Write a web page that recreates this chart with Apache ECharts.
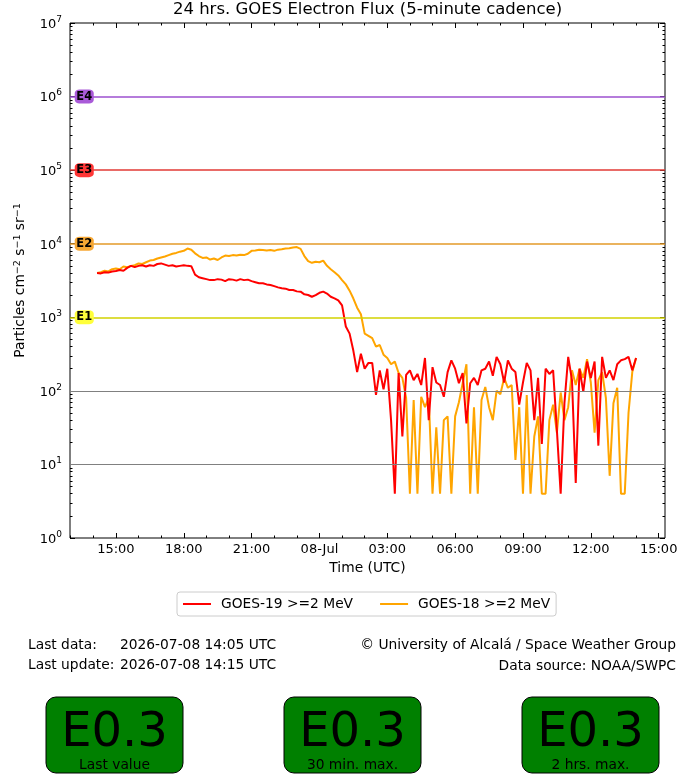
<!DOCTYPE html>
<html>
<head>
<meta charset="utf-8">
<script src="https://cdn.jsdelivr.net/npm/echarts@6/dist/echarts.min.js"></script>
<style>
html, body { margin: 0; padding: 0; background: #fff; }
#chart { width: 700px; height: 780px; }
</style>
</head>
<body>
<div id="chart"></div>
<script>
// sampling grid: hours since 2026-07-07 00:00 UTC, one value every 10 minutes
var startHour = 14 + 10 / 60;
var stepHours = 10 / 60;

// GOES-19 >=2 MeV electron flux
var goes19 = [
    4000, 3950, 4100, 4050, 4200, 4250, 4400, 4300, 4700, 5000,
    4800, 5000, 5100, 4900, 5100, 5000, 5300, 5400, 5200, 5000,
    5100, 4900, 5000, 5100, 5000, 4950, 3800, 3500, 3400, 3300,
    3200, 3200, 3300, 3250, 3100, 3300, 3250, 3150, 3300, 3200,
    3250, 3100, 3000, 2900, 2900, 2800, 2750, 2650, 2550, 2480,
    2450, 2350, 2350, 2250, 2230, 2050, 2010, 1900, 2000, 2150,
    2230, 2100, 1900, 1810, 1700, 1450, 750, 600, 350, 180,
    320, 200, 240, 240, 88, 190, 105, 200, 40, 4,
    175, 24, 165, 190, 140, 170, 120, 280, 40, 210,
    130, 120, 83, 180, 260, 200, 127, 175, 36, 127,
    150, 120, 190, 200, 250, 160, 290, 230, 130, 260,
    200, 180, 65, 130, 240, 190, 40, 150, 19, 200,
    170, 190, 29, 4, 68, 290, 140, 5.6, 200, 97,
    250, 150, 250, 18, 290, 150, 190, 140, 230, 260,
    270, 290, 190, 280
];

// GOES-18 >=2 MeV electron flux
var goes18 = [
    4000, 4100, 4300, 4200, 4500, 4600, 4500, 4900, 4800, 5000,
    5100, 5400, 5300, 5600, 5900, 6000, 6300, 6500, 6700, 7000,
    7300, 7500, 7800, 8000, 8600, 8300, 7400, 6800, 6400, 6500,
    6100, 6300, 6000, 6500, 6900, 6800, 7000, 6900, 7100, 7000,
    7300, 8000, 8100, 8300, 8200, 8100, 8200, 8000, 8300, 8400,
    8600, 8700, 8900, 9000, 8500, 6800, 5800, 5500, 5700, 5600,
    5900, 5000, 4500, 4100, 3700, 3200, 2800, 2300, 1800, 1350,
    1100, 600, 560, 520, 400, 420, 310, 280, 230, 250,
    175, 150, 80, 4, 75, 4, 83, 60, 80, 4,
    32, 4, 40, 45, 4, 45, 70, 127, 230, 4,
    60, 4, 75, 113, 60, 40, 100, 90, 150, 110,
    120, 11.5, 60, 4, 88, 4, 24, 45, 4, 4,
    40, 65, 27, 95, 40, 60, 190, 120, 200, 150,
    270, 130, 27, 140, 180, 80, 7, 68, 110, 4,
    4, 50, 180, 280
];

// alert levels
var levelNames = ['E1', 'E2', 'E3', 'E4'];
var levelValues = [1e3, 1e4, 1e5, 1e6];
var levelLineColors = ['#d2d200', '#e39a28', '#e23a34', '#9c50cf'];
var levelBoxColors = ['#ffff3a', '#f7a834', '#ff3636', '#a95ad8'];
var greyLevels = [1e1, 1e2];

// x axis ticks (hours since 2026-07-07 00:00)
var xMajorTicks = [15, 18, 21, 24, 27, 30, 33, 36, 39];
var xMajorLabels = ['15:00', '18:00', '21:00', '08-Jul', '03:00', '06:00', '09:00', '12:00', '15:00'];
var xMinorTicks = [13, 14, 16, 17, 19, 20, 22, 23, 25, 26, 28, 29, 31, 32, 34, 35, 37, 38];

var boxValues = ['E0.3', 'E0.3', 'E0.3'];
var boxCaptions = ['Last value', '30 min. max.', '2 hrs. max.'];

var font = 'DejaVu Sans';

function toPairs(arr) {
    var out = [];
    for (var i = 0; i < arr.length; i++) {
        out.push([startHour + i * stepHours, arr[i]]);
    }
    return out;
}

var yMinorTicks = [];
for (var n = 0; n < 7; n++) {
    for (var k = 2; k < 10; k++) {
        yMinorTicks.push(n + Math.log10(k));
    }
}

var levelLines = [];
var levelMarks = [];
for (var j = 0; j < levelValues.length; j++) {
    levelLines.push({ yAxis: levelValues[j], lineStyle: { color: levelLineColors[j], width: 1.5, type: 'solid' } });
    levelMarks.push({
        coord: [13.6, levelValues[j]],
        itemStyle: { color: levelBoxColors[j] },
        label: { formatter: levelNames[j] }
    });
}
for (var g = 0; g < greyLevels.length; g++) {
    levelLines.push({ yAxis: greyLevels[g], lineStyle: { color: '#808080', width: 1.2, type: 'solid' } });
}

var myChart = echarts.init(document.getElementById('chart'), null, { renderer: 'canvas' });

var xMin = 12.97, xMax = 39.28;
var supRich = {
    b: { fontSize: 13, fontFamily: font, color: '#000', lineHeight: 16, verticalAlign: 'bottom' },
    s: { fontSize: 9, fontFamily: font, color: '#000', lineHeight: 16, verticalAlign: 'top' }
};

var graphics = [
    { type: 'text', left: 28, top: 638, style: { text: 'Last data:', font: '13.8px "DejaVu Sans"', fill: '#000' } },
    { type: 'text', left: 120, top: 638, style: { text: '2026-07-08 14:05 UTC', font: '13.8px "DejaVu Sans"', fill: '#000' } },
    { type: 'text', left: 28, top: 658, style: { text: 'Last update:', font: '13.8px "DejaVu Sans"', fill: '#000' } },
    { type: 'text', left: 120, top: 658, style: { text: '2026-07-08 14:15 UTC', font: '13.8px "DejaVu Sans"', fill: '#000' } },
    { type: 'text', right: 24, top: 638, style: { text: '\u00a9 University of Alcal\u00e1 / Space Weather Group', font: '13.8px "DejaVu Sans"', fill: '#000' } },
    { type: 'text', right: 24, top: 659, style: { text: 'Data source: NOAA/SWPC', font: '13.8px "DejaVu Sans"', fill: '#000' } }
];
var boxLefts = [46, 284, 522];
for (var b = 0; b < boxLefts.length; b++) {
    graphics.push({
        type: 'rect',
        shape: { x: boxLefts[b], y: 697, width: 137, height: 76, r: 10 },
        style: { fill: '#008000', stroke: '#000', lineWidth: 1 }
    });
    graphics.push({
        type: 'text',
        style: { x: boxLefts[b] + 68.5, y: 734, text: boxValues[b], font: '48px "DejaVu Sans"', fill: '#000', textAlign: 'center', textVerticalAlign: 'middle' }
    });
    graphics.push({
        type: 'text',
        style: { x: boxLefts[b] + 68.5, y: 765, text: boxCaptions[b], font: '13.8px "DejaVu Sans"', fill: '#000', textAlign: 'center', textVerticalAlign: 'middle' }
    });
}

var option = {
    animation: false,
    backgroundColor: '#fff',
    textStyle: { fontFamily: font },
    title: {
        text: '24 hrs. GOES Electron Flux (5-minute cadence)',
        left: 367.5,
        top: 1,
        padding: 0,
        textAlign: 'center',
        textStyle: { fontSize: 16.5, fontWeight: 'normal', color: '#000', fontFamily: font }
    },
    grid: {
        left: 70, right: 35, top: 23, bottom: 242,
        show: true, borderColor: '#000', borderWidth: 1, backgroundColor: 'transparent'
    },
    legend: {
        data: ['GOES-19 >=2 MeV', 'GOES-18 >=2 MeV'],
        left: 177,
        top: 592,
        padding: [5, 6, 5, 6],
        itemGap: 27,
        itemWidth: 28,
        itemHeight: 2,
        icon: 'rect',
        borderColor: '#cccccc',
        borderWidth: 1,
        borderRadius: 3,
        textStyle: { fontSize: 13.8, color: '#000', fontFamily: font, padding: [0, 0, 0, 5] }
    },
    xAxis: [
        {
            type: 'value', min: xMin, max: xMax, position: 'bottom',
            axisLine: { show: false },
            splitLine: { show: false },
            axisTick: { show: true, inside: true, length: 5, customValues: xMajorTicks, lineStyle: { color: '#000' } },
            axisLabel: {
                customValues: xMajorTicks, margin: 5, fontSize: 13, color: '#000',
                formatter: function (v) {
                    var idx = xMajorTicks.indexOf(Math.round(v));
                    return idx >= 0 ? xMajorLabels[idx] : '';
                }
            },
            name: 'Time (UTC)', nameLocation: 'middle', nameGap: 23,
            nameTextStyle: { fontSize: 13.8, color: '#000', fontFamily: font }
        },
        {
            type: 'value', min: xMin, max: xMax, position: 'bottom',
            axisLine: { show: false }, splitLine: { show: false }, axisLabel: { show: false },
            axisTick: { show: true, inside: true, length: 2.5, customValues: xMinorTicks, lineStyle: { color: '#000' } }
        },
        {
            type: 'value', min: xMin, max: xMax, position: 'top',
            axisLine: { show: false }, splitLine: { show: false }, axisLabel: { show: false },
            axisTick: { show: true, inside: true, length: 5, customValues: xMajorTicks, lineStyle: { color: '#000' } }
        },
        {
            type: 'value', min: xMin, max: xMax, position: 'top',
            axisLine: { show: false }, splitLine: { show: false }, axisLabel: { show: false },
            axisTick: { show: true, inside: true, length: 2.5, customValues: xMinorTicks, lineStyle: { color: '#000' } }
        }
    ],
    yAxis: [
        {
            type: 'log', logBase: 10, min: 1, max: 1e7, position: 'left',
            axisLine: { show: false },
            splitLine: { show: false },
            axisTick: { show: true, inside: true, length: 5, lineStyle: { color: '#000' } },
            axisLabel: {
                margin: 8,
                formatter: function (v) {
                    return '{b|10}{s|' + Math.round(Math.log10(v)) + '}';
                },
                rich: supRich
            },
            name: 'Particles cm{s|\u22122} s{s|\u22121} sr{s|\u22121}',
            nameLocation: 'middle', nameGap: 40,
            nameTextStyle: {
                fontSize: 13.8, color: '#000', fontFamily: font,
                rich: {
                    s: { fontSize: 9.5, fontFamily: font, color: '#000', verticalAlign: 'top', lineHeight: 16 }
                },
                lineHeight: 16
            }
        },
        {
            type: 'log', logBase: 10, min: 1, max: 1e7, position: 'right',
            axisLine: { show: false }, splitLine: { show: false }, axisLabel: { show: false },
            axisTick: { show: true, inside: true, length: 5, lineStyle: { color: '#000' } }
        },
        {
            type: 'value', min: 0, max: 7, position: 'left',
            axisLine: { show: false }, splitLine: { show: false }, axisLabel: { show: false },
            axisTick: { show: true, inside: true, length: 2.5, customValues: yMinorTicks, lineStyle: { color: '#000' } }
        },
        {
            type: 'value', min: 0, max: 7, position: 'right',
            axisLine: { show: false }, splitLine: { show: false }, axisLabel: { show: false },
            axisTick: { show: true, inside: true, length: 2.5, customValues: yMinorTicks, lineStyle: { color: '#000' } }
        }
    ],
    series: [
        {
            name: 'levels',
            type: 'line',
            data: [],
            z: 1,
            silent: true,
            markLine: {
                silent: true,
                symbol: 'none',
                label: { show: false },
                data: levelLines
            },
            markPoint: {
                silent: true,
                symbol: 'roundRect',
                symbolSize: [19, 14],
                label: { show: true, fontSize: 11.5, fontWeight: 'bold', color: '#000', fontFamily: font },
                data: levelMarks
            }
        },
        {
            name: 'GOES-18 >=2 MeV',
            type: 'line',
            color: '#ffa500',
            showSymbol: false,
            symbol: 'none',
            z: 3,
            lineStyle: { width: 2, color: '#ffa500' },
            data: toPairs(goes18)
        },
        {
            name: 'GOES-19 >=2 MeV',
            type: 'line',
            color: '#ff0000',
            showSymbol: false,
            symbol: 'none',
            z: 4,
            lineStyle: { width: 2, color: '#ff0000' },
            data: toPairs(goes19)
        }
    ],
    graphic: graphics
};

myChart.setOption(option);
</script>
</body>
</html>
